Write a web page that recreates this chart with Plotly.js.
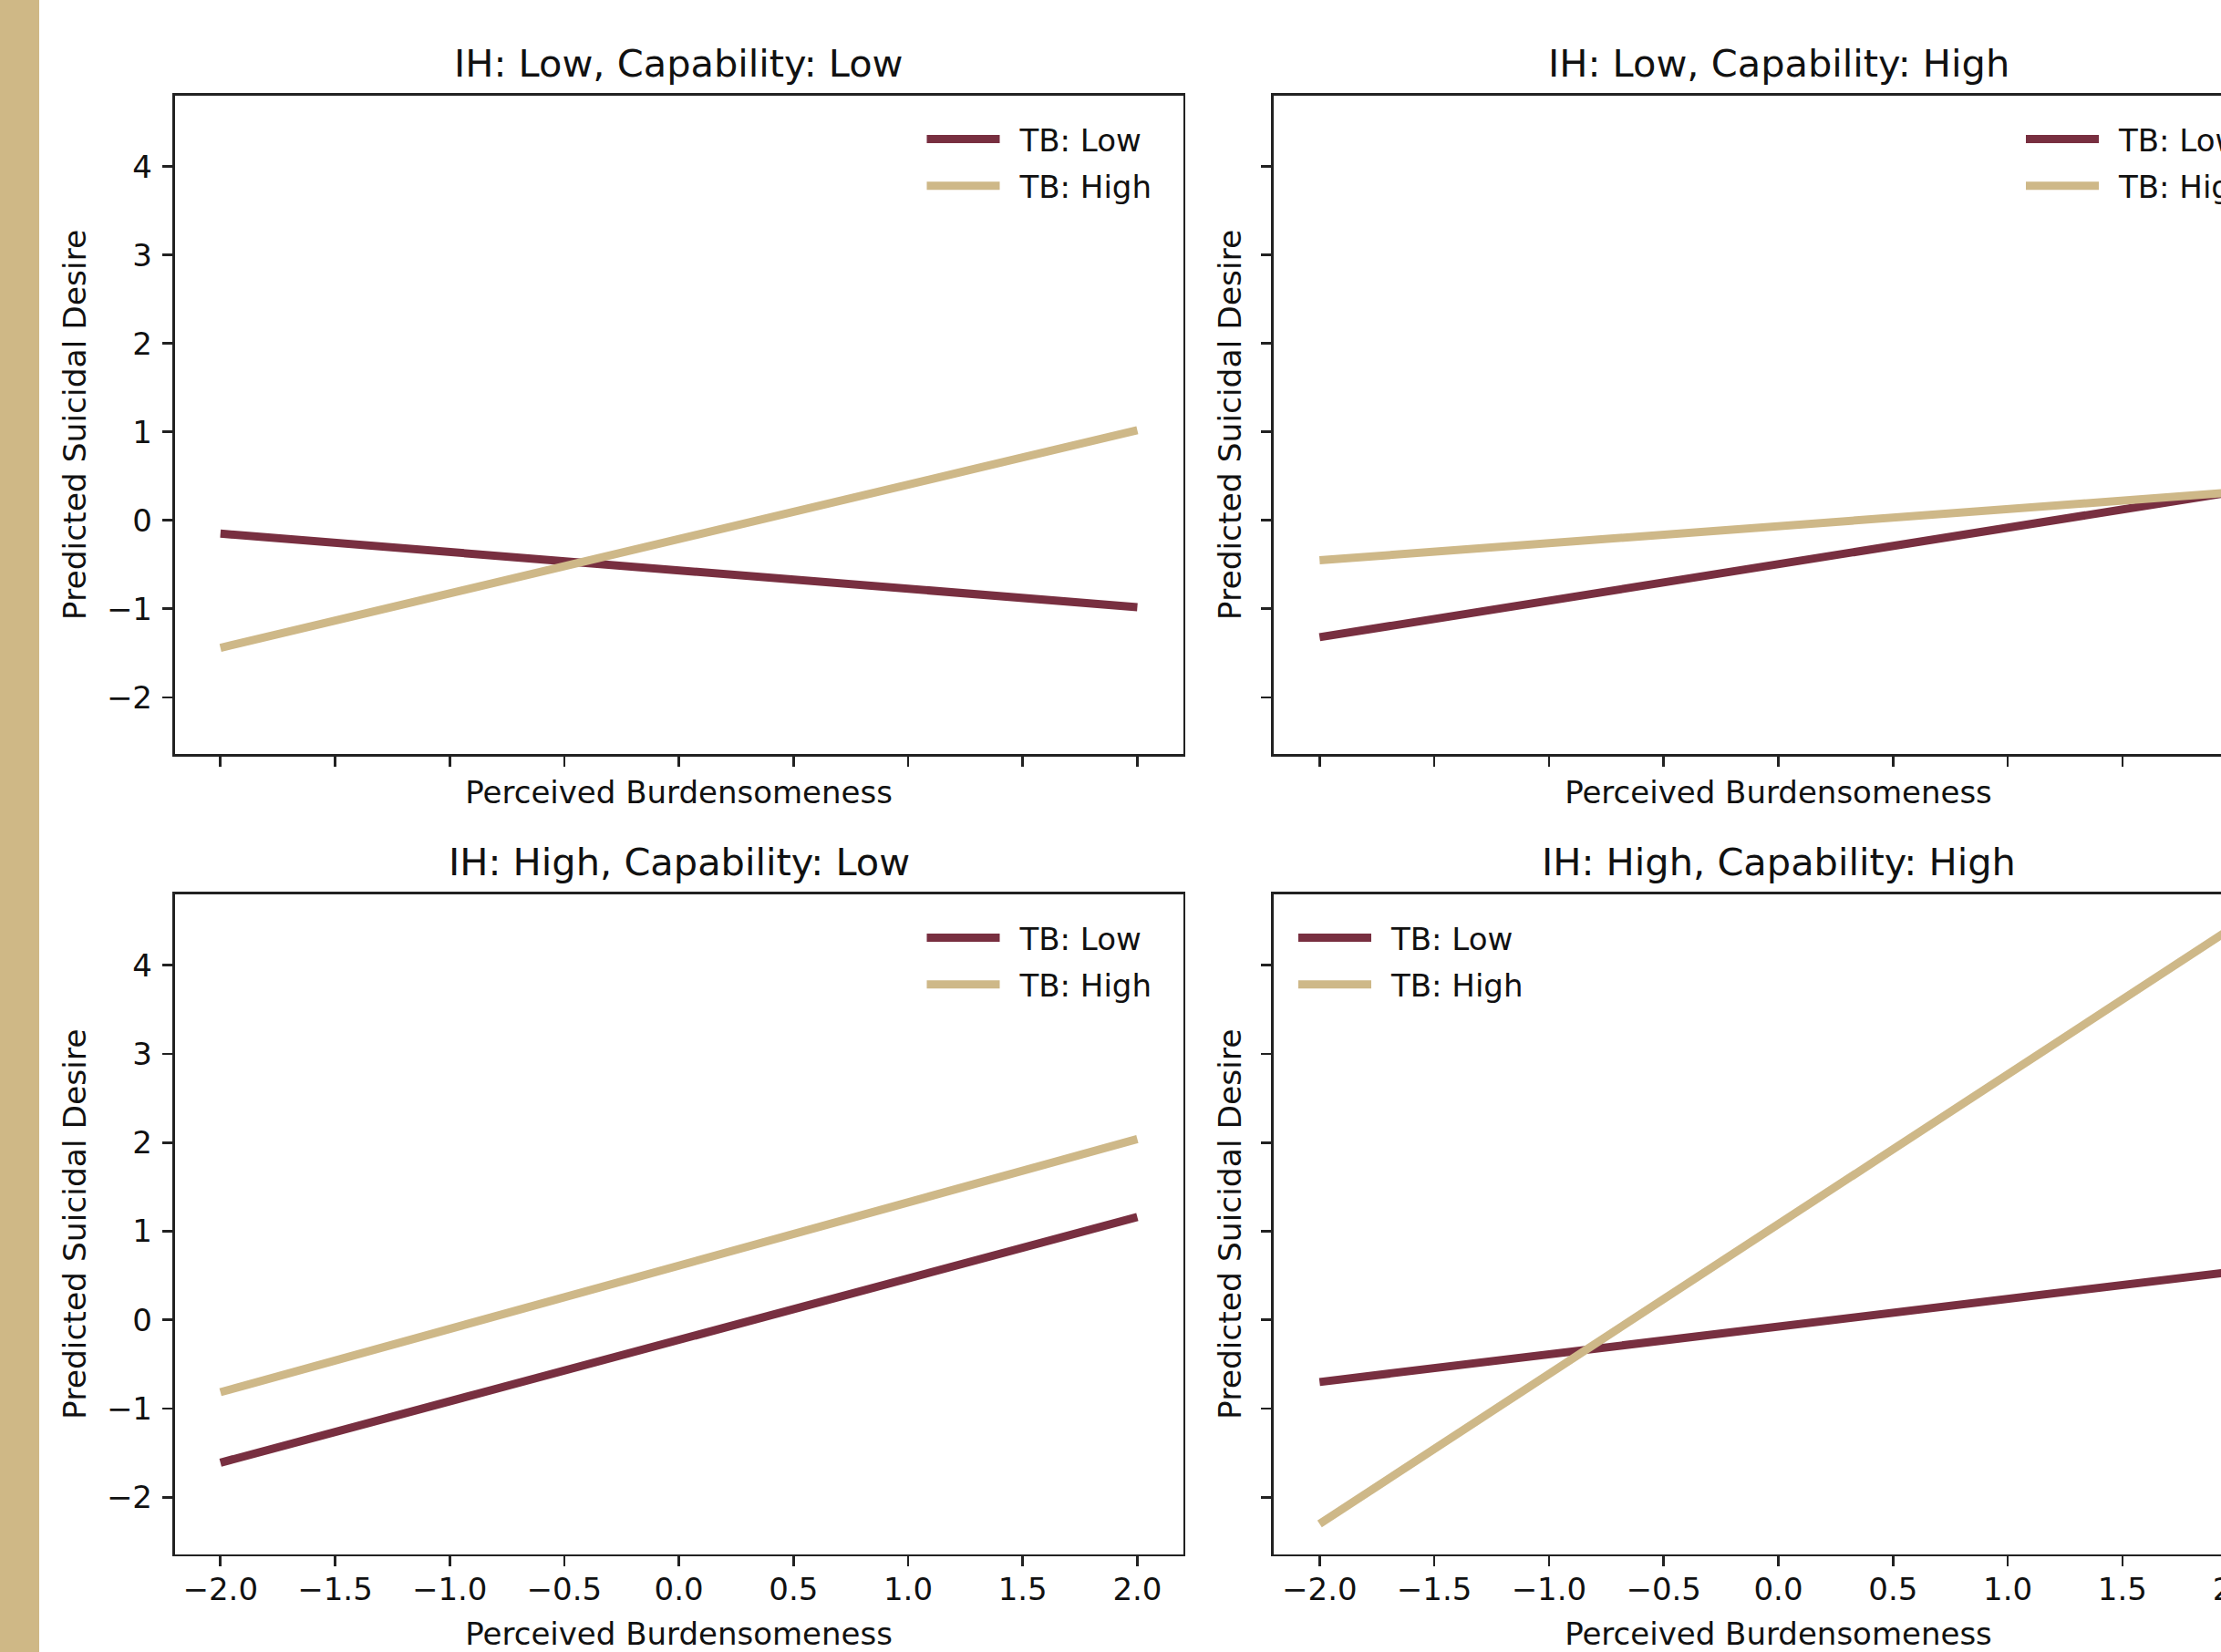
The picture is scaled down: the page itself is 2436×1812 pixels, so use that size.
<!DOCTYPE html>
<html><head><meta charset="utf-8">
<script src="https://cdn.plot.ly/plotly-3.0.1.min.js"></script>
<style>html,body{margin:0;padding:0;overflow:hidden;background:#fff}#chart{width:2560px;height:1812px}</style>
</head><body><div id="chart"></div>
<script>
// Data (x = Perceived Burdensomeness at -2 and 2)
const burden = [-2, 2];
const panelTitles = ['IH: Low, Capability: Low', 'IH: Low, Capability: High', 'IH: High, Capability: Low', 'IH: High, Capability: High'];
const seriesNames = ['TB: Low', 'TB: High'];
const lowLow_tbLow = [-0.15, -0.98];
const lowLow_tbHigh = [-1.44, 1.02];
const lowHigh_tbLow = [-1.32, 0.33];
const lowHigh_tbHigh = [-0.45, 0.32];
const highLow_tbLow = [-1.61, 1.16];
const highLow_tbHigh = [-0.815, 2.04];
const highHigh_tbLow = [-0.70, 0.55];
const highHigh_tbHigh = [-2.30, 4.46];
const xTicks = [-2, -1.5, -1, -0.5, 0, 0.5, 1, 1.5, 2];
const yTicks = [-2, -1, 0, 1, 2, 3, 4];

const W = 2560, H = 1812;
const GARNET = '#782F40', GOLD = '#CEB888';
const FONT = 'DejaVu Sans, Verdana, sans-serif';
const panels = [
  {tbLow: lowLow_tbLow, tbHigh: lowLow_tbHigh},
  {tbLow: lowHigh_tbLow, tbHigh: lowHigh_tbHigh},
  {tbLow: highLow_tbLow, tbHigh: highLow_tbHigh},
  {tbLow: highHigh_tbLow, tbHigh: highHigh_tbHigh}
];
// pixel geometry of the axes boxes
const xPix = [[191.5, 1297.7], [1397, 2504]];
const yPix = [[105, 827], [981, 1704.5]];

const traces = [];
const layout = {
  width: W, height: H,
  margin: {l: 0, r: 0, t: 0, b: 0},
  paper_bgcolor: '#fff', plot_bgcolor: '#fff',
  font: {family: FONT, size: 34, color: '#000'},
  showlegend: true,
  annotations: [],
  shapes: [{type: 'rect', xref: 'paper', yref: 'paper', x0: 0, x1: 43 / W, y0: 0, y1: 1,
            fillcolor: '#CFB886', line: {width: 0}, layer: 'below'}]
};

panels.forEach((p, i) => {
  const row = Math.floor(i / 2), col = i % 2;
  const n = i + 1;
  const xa = n === 1 ? 'x' : 'x' + n, ya = n === 1 ? 'y' : 'y' + n;
  const lg = n === 1 ? 'legend' : 'legend' + n;
  [[p.tbLow, GARNET, seriesNames[0]], [p.tbHigh, GOLD, seriesNames[1]]].forEach(([vals, c, name], k) => {
    traces.push({x: burden, y: vals, type: 'scatter', mode: 'lines', name: '\u2002' + name,
      legendgroup: 'g' + n + '_' + k,
      line: {color: c, width: 9}, xaxis: xa, yaxis: ya, legend: lg, hoverinfo: 'skip'});
  });
  const dx = [xPix[col][0] / W, xPix[col][1] / W];
  const dy = [1 - yPix[row][1] / H, 1 - yPix[row][0] / H];
  const xKey = n === 1 ? 'xaxis' : 'xaxis' + n, yKey = n === 1 ? 'yaxis' : 'yaxis' + n;
  layout[xKey] = {
    domain: dx, anchor: ya, range: [-2.2, 2.2], tickvals: xTicks, tickformat: '.1f',
    showticklabels: row === 1, ticks: 'outside', ticklen: 11, tickwidth: 2.7, tickcolor: '#222',
    showline: true, mirror: true, linecolor: '#222', linewidth: 2.7, showgrid: false, zeroline: false,
    ticklabelstandoff: row === 1 ? -4 : 8,
    tickfont: {family: FONT, size: 34, color: '#111'},
    title: {text: 'Perceived Burdensomeness', font: {family: FONT, size: 34, color: '#111'}, standoff: row === 1 ? 38 : 18}
  };
  layout[yKey] = {
    domain: dy, anchor: xa, range: [-2.64, 4.80], tickvals: yTicks,
    showticklabels: col === 0, ticks: 'outside', ticklen: 11, tickwidth: 2.7, tickcolor: '#222',
    showline: true, mirror: true, linecolor: '#222', linewidth: 2.7, showgrid: false, zeroline: false,
    ticklabelstandoff: 4,
    tickfont: {family: FONT, size: 34, color: '#111'},
    title: {text: 'Predicted Suicidal Desire', font: {family: FONT, size: 34.5, color: '#111'}, standoff: 12}
  };
  const legCommon = {yanchor: 'top', y: 1 - (yPix[row][0] + 19) / H, xanchor: 'left',
    bgcolor: 'rgba(0,0,0,0)', borderwidth: 0, itemwidth: 80, tracegroupgap: 4,
    font: {family: FONT, size: 34, color: '#111'}};
  layout[lg] = Object.assign({}, legCommon,
    {x: (col === 1 && row === 1 ? xPix[col][0] + 22 : xPix[col][0] + 820) / W});
  layout.annotations.push({
    text: panelTitles[i], xref: 'paper', yref: 'paper', showarrow: false,
    x: (dx[0] + dx[1]) / 2, xanchor: 'center',
    y: 1 - (yPix[row][0] - 36) / H, yanchor: 'middle',
    font: {family: FONT, size: 41.5, color: '#111'}
  });
});

Plotly.newPlot('chart', traces, layout, {staticPlot: true, displayModeBar: false});
</script>
</body></html>
